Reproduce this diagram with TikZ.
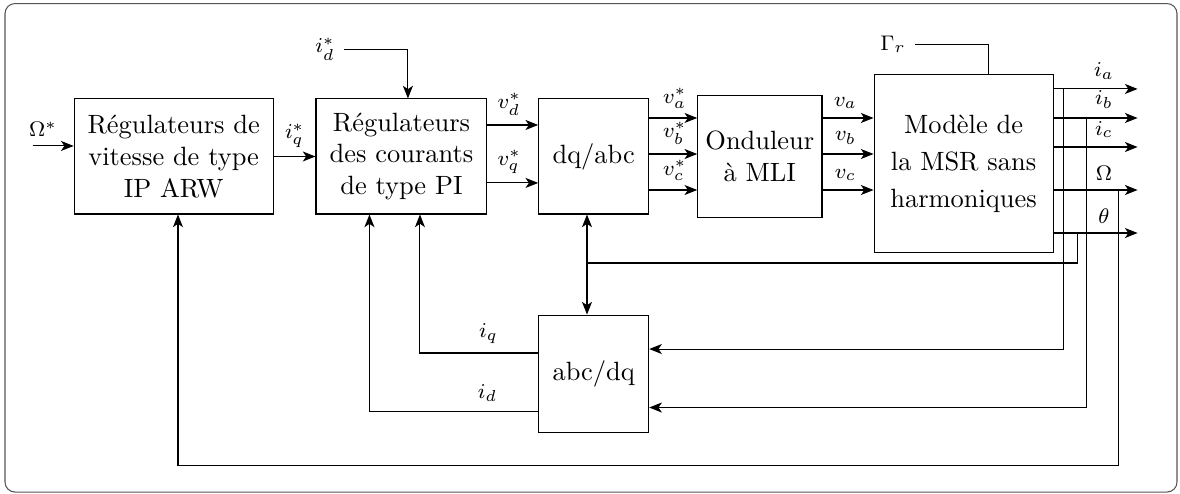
\documentclass[tikz,border=0pt]{standalone}
\usepackage{tikz}
\usetikzlibrary{arrows.meta, positioning, calc}
\usepackage{amsmath}
\definecolor{cadre}{HTML}{555555}

\begin{document}
\begin{tikzpicture}[>={Stealth[length=4.8pt, width=3.8pt, inset=1.3pt]}, node distance=0.6cm,
  bloc/.style={rectangle, draw, thin, align=center, inner sep=2pt},
  sig/.style={font=\footnotesize}]

  \useasboundingbox (0,0) rectangle (15.694,-6.570);
  \draw[cadre, rounded corners=3.8pt] (0.0665,-0.047) rectangle (15.654,-6.544);

  % blocs de la chaine de commande
  \node[bloc, minimum width=2.647cm, minimum height=1.530cm] (vit) at (2.310,-2.081) {Régulateurs de\\ vitesse de type\\ IP ARW};
  \node[bloc, minimum width=2.274cm, minimum height=1.530cm, right=0.555cm of vit] (cour) {Régulateurs\\ des courants\\ de type PI};
  \node[bloc, minimum width=1.463cm, minimum height=1.530cm, right=0.674cm of cour] (dqabc) {dq/abc};
  \node[bloc, minimum width=1.653cm, minimum height=1.631cm, right=0.638cm of dqabc] (ond) {Onduleur\\ à MLI};
  \node[bloc, minimum width=2.381cm, minimum height=2.367cm, right=0.678cm of ond, yshift=-0.096cm] (msr) {Modèle de\\[2pt] la MSR sans\\[2pt] harmoniques};
  \node[bloc, minimum width=1.463cm, minimum height=1.556cm, below=1.33cm of dqabc] (abcdq) {abc/dq};

  % consignes
  \coordinate (omref) at ([xshift=-0.545cm, yshift=0.14cm]vit.west);
  \draw[->] (omref) -- node[sig, above, pos=0.25] {$\Omega^*$} ([yshift=0.14cm]vit.west);
  \draw[->] (vit) -- node[sig, above] {$i_q^*$} (cour);
  \node[sig] (idref) at (4.323,-0.652) {$i_d^*$};
  \draw[->] (idref) -| ([xshift=0.086cm]cour.north);
  \node[sig] (gam) at (11.877,-0.590) {$\Gamma_r$};
  \draw (gam) -| ([xshift=0.326cm]msr.north);

  % tensions
  \draw[->] ([yshift=0.419cm]cour.east) -- node[sig, above, pos=0.43] {$v_d^*$} ([yshift=0.419cm]cour.east -| dqabc.west);
  \draw[->] ([yshift=-0.352cm]cour.east) -- node[sig, above, pos=0.43] {$v_q^*$} ([yshift=-0.352cm]cour.east -| dqabc.west);
  \foreach \y/\l in {0.512/a, 0.033/b, -0.446/c} {
    \draw[->] ([yshift=\y cm]dqabc.east) -- node[sig, above, pos=0.53] {$v_\l^*$} ([yshift=\y cm]dqabc.east -| ond.west);
    \draw[->] ([yshift=\y cm]ond.east) -- node[sig, above, pos=0.45] {$v_\l$} ([yshift=\y cm]ond.east -| msr.west);
  }

  % sorties de la machine
  \foreach \y/\l/\n in {0.994/i_a/ia, 0.608/i_b/ib, 0.222/i_c/ic, -0.350/\Omega/om, -0.922/\theta/th} {
    \coordinate (s\n) at ([yshift=\y cm]msr.east);
    \coordinate (e\n) at ([xshift=1.117cm]s\n);
    \draw[->] (s\n) -- node[sig, above, pos=0.6] {$\l$} (e\n);
  }

  % retours
  \draw[->] ([xshift=0.126cm]sia) |- ([yshift=0.326cm]abcdq.east);
  \draw[->] ([xshift=0.439cm]sib) |- ([yshift=-0.452cm]abcdq.east);
  \coordinate (pos) at ([xshift=-0.089cm, yshift=-0.645cm]dqabc.south);
  \draw ([xshift=0.319cm]sth) |- (pos);
  \draw[<->] ([xshift=-0.089cm]dqabc.south) -- ([xshift=-0.089cm]abcdq.north);
  \coordinate (ret) at ([yshift=-0.439cm]abcdq.south);
  \draw[->] ([xshift=0.858cm]som) |- (ret) -| ([xshift=0.057cm]vit.south);
  \draw[->] ([yshift=0.273cm]abcdq.west) -| node[sig, above, pos=0.21] {$i_q$} ([xshift=0.246cm]cour.south);
  \draw[->] ([yshift=-0.499cm]abcdq.west) -| node[sig, above, pos=0.15] {$i_d$} ([xshift=-0.426cm]cour.south);
\end{tikzpicture}
\end{document}
